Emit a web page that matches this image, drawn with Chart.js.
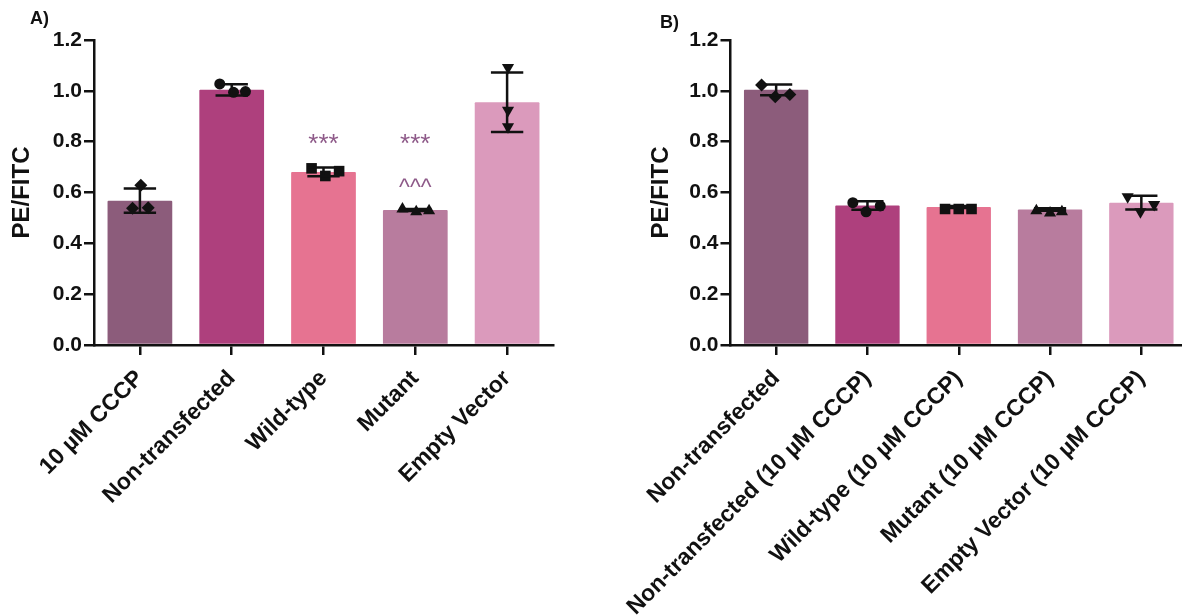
<!DOCTYPE html>
<html>
<head>
<meta charset="utf-8">
<script src="https://cdn.jsdelivr.net/npm/chart.js@4.4.1/dist/chart.umd.min.js"></script>
<style>
  html, body { margin: 0; padding: 0; background: #fff; overflow: hidden; width: 1182px; height: 615px; }
  .panel { position: absolute; top: 0; height: 615px; }
  #wrapA { left: 0; width: 591px; }
  #wrapB { left: 591px; width: 610px; }
  .tag { position: absolute; font: bold 18px "Liberation Sans", Arial, sans-serif; line-height: 18px; color: #111; }
</style>
</head>
<body>
<div class="panel" id="wrapA"><canvas id="chartA"></canvas></div>
<div class="panel" id="wrapB"><canvas id="chartB"></canvas></div>
<div class="tag" style="left:30px;top:9px">A)</div>
<div class="tag" style="left:660px;top:13px">B)</div>
<script>
// Panel A data
const labelsA = ['10 µM CCCP', 'Non-transfected', 'Wild-type', 'Mutant', 'Empty Vector'];
const meansA = [0.568, 1.004, 0.681, 0.531, 0.955];
const sdA = [0.048, 0.022, 0.017, 0.004, 0.117];
const pointsA = [
    [0.538, 0.629, 0.540],
    [1.027, 0.994, 0.997],
    [0.695, 0.665, 0.684],
    [0.535, 0.524, 0.528],
    [1.092, 0.924, 0.859]
];
// horizontal spread of the replicate dots, in category units
const jitterA = [[-0.08, 0.01, 0.09], [-0.13, 0.02, 0.15], [-0.13, 0.02, 0.17], [-0.14, 0.01, 0.15], [0.01, 0.01, 0.01]];
const markersA = ['diamond', 'circle', 'square', 'triangle', 'down'];
const notesTextA = ['***', '***', '^^^'];
const notesIndexA = [2, 3, 3];
const notesValueA = [0.81, 0.81, 0.64];

// Panel B data
const labelsB = ['Non-transfected', 'Non-transfected (10 µM CCCP)', 'Wild-type (10 µM CCCP)', 'Mutant (10 µM CCCP)', 'Empty Vector (10 µM CCCP)'];
const meansB = [1.004, 0.549, 0.543, 0.533, 0.560];
const sdB = [0.021, 0.017, 0.004, 0.005, 0.027];
const pointsB = [
    [1.023, 0.977, 0.986],
    [0.560, 0.524, 0.547],
    [0.535, 0.535, 0.535],
    [0.528, 0.519, 0.524],
    [0.583, 0.524, 0.553]
];
const jitterB = [[-0.16, -0.01, 0.15], [-0.16, -0.015, 0.14], [-0.15, 0, 0.14], [-0.15, 0, 0.13], [-0.15, -0.01, 0.14]];
const markersB = ['diamond', 'circle', 'square', 'triangle', 'down'];

const barColors = ['#8c5c7b', '#ae407d', '#e67391', '#b87c9e', '#db9abc'];
const fontFamily = '"Liberation Sans", Arial, sans-serif';
const ink = '#111';

// draws mean +/- SD whiskers and the significance marks
const errorBars = {
    id: 'errorBars',
    afterDatasetsDraw(chart, args, opts) {
        const ctx = chart.ctx;
        const x = chart.scales.x, y = chart.scales.y;
        const bars = chart.getDatasetMeta(0).data;
        ctx.save();
        ctx.strokeStyle = ink;
        ctx.lineWidth = 2.5;
        opts.means.forEach((m, i) => {
            const px = x.getPixelForValue(i);
            const top = y.getPixelForValue(m + opts.sd[i]);
            const bot = y.getPixelForValue(m - opts.sd[i]);
            const half = bars[i].width / 4;
            ctx.beginPath();
            ctx.moveTo(px, top); ctx.lineTo(px, bot);
            ctx.moveTo(px - half, top); ctx.lineTo(px + half, top);
            ctx.moveTo(px - half, bot); ctx.lineTo(px + half, bot);
            ctx.stroke();
        });
        ctx.fillStyle = '#8e5a89';
        ctx.textAlign = 'center';
        ctx.textBaseline = 'alphabetic';
        (opts.notesText || []).forEach((t, k) => {
            ctx.font = (t === '***' ? '26px ' : '23px ') + fontFamily;
            const m = ctx.measureText(t);
            const px = x.getPixelForValue(opts.notesIndex[k]);
            const py = y.getPixelForValue(opts.notesValue[k]);
            ctx.fillText(t, px, py + (m.actualBoundingBoxAscent - m.actualBoundingBoxDescent) / 2);
        });
        ctx.restore();
    }
};

const markerStyle = { diamond: 'rectRot', circle: 'circle', square: 'rect', triangle: 'triangle', down: 'triangle' };
const markerRadius = { diamond: 6.5, circle: 5.5, square: 7.5, triangle: 7, down: 7 };

function buildChart(id, labels, means, sd, points, jitter, markers, notes, pad, yWidth) {
    const dots = [], styles = [], rots = [], radii = [];
    points.forEach((grp, i) => grp.forEach((v, k) => {
        dots.push({ x: i + jitter[i][k], y: v });
        styles.push(markerStyle[markers[i]]);
        rots.push(markers[i] === 'down' ? 180 : 0);
        radii.push(markerRadius[markers[i]]);
    }));

    const tickFont = { family: fontFamily, size: 21, weight: 'bold' };
    const labelFont = { family: fontFamily, size: 23, weight: 'bold' };

    return new Chart(document.getElementById(id), {
        type: 'bar',
        data: {
            labels: labels,
            datasets: [{
                data: means,
                backgroundColor: barColors,
                barPercentage: 0.705,
                categoryPercentage: 1,
                grouped: false,
                borderRadius: 1,
                order: 1
            }, {
                type: 'scatter',
                xAxisID: 'xp',
                data: dots,
                pointStyle: styles,
                pointRotation: rots,
                pointRadius: radii,
                pointHoverRadius: radii,
                backgroundColor: ink,
                borderColor: ink,
                borderWidth: 0,
                order: 0
            }]
        },
        options: {
            responsive: true,
            maintainAspectRatio: false,
            animation: false,
            layout: { padding: pad },
            plugins: {
                legend: { display: false },
                tooltip: { enabled: false },
                errorBars: { means: means, sd: sd, notesText: notes[0], notesIndex: notes[1], notesValue: notes[2] }
            },
            scales: {
                x: {
                    grid: { display: true, drawOnChartArea: false, offset: false, tickLength: 10, color: ink, lineWidth: 2.5 },
                    border: { color: ink, width: 2.5 },
                    ticks: { color: ink, font: labelFont, minRotation: 45, maxRotation: 45, autoSkip: false, padding: 10 },
                    afterFit(s) { s.height = 270; }
                },
                xp: { type: 'linear', display: false, offset: false, grid: { offset: false }, min: -0.5, max: 4.5 },
                y: {
                    min: 0,
                    max: 1.2,
                    ticks: { stepSize: 0.2, color: ink, font: tickFont, padding: 2, callback: v => v.toFixed(1) },
                    grid: { display: true, drawOnChartArea: false, tickLength: 10, color: ink, lineWidth: 2.5 },
                    border: { color: ink, width: 2.5 },
                    title: { display: true, text: 'PE/FITC', color: ink, font: { family: fontFamily, size: 24, weight: 'bold' }, padding: { top: 8, bottom: 0 } },
                    afterFit(s) { s.width = yWidth; }
                }
            }
        },
        plugins: [errorBars]
    });
}

buildChart('chartA', labelsA, meansA, sdA, pointsA, jitterA, markersA,
    [notesTextA, notesIndexA, notesValueA], { top: 40, left: 0, right: 38, bottom: 0 }, 94);
buildChart('chartB', labelsB, meansB, sdB, pointsB, jitterB, markersB,
    [[], [], []], { top: 40, left: 48, right: 14, bottom: 0 }, 91.5);
</script>
</body>
</html>
